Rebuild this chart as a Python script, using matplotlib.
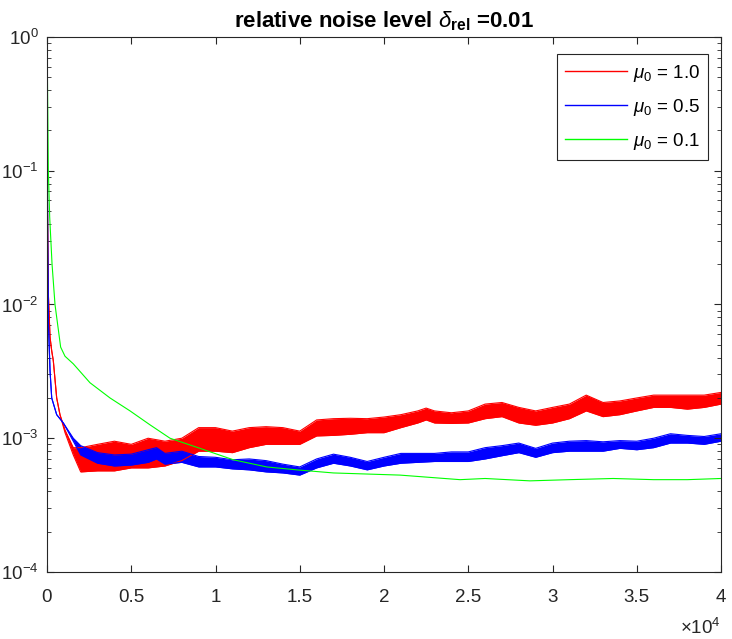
import numpy as np
import matplotlib
matplotlib.use("Agg")
import matplotlib.pyplot as plt
from matplotlib.lines import Line2D
from matplotlib.ticker import FixedLocator, LogLocator, NullFormatter

plt.rcParams['font.family'] = ['Liberation Sans', 'DejaVu Sans']
plt.rcParams['mathtext.fontset'] = 'custom'
plt.rcParams['mathtext.rm'] = 'Liberation Sans'
plt.rcParams['mathtext.it'] = 'Liberation Sans:italic'
plt.rcParams['mathtext.bf'] = 'Liberation Sans:bold'

# mu0 = 1.0 (red): lower / upper edge of the noisy curve
red_x = [0, 10, 30, 80, 180, 280, 375, 575, 770, 1070, 1560,
         2000, 3000, 4000, 5000, 6000, 7000, 8000, 9000, 10000, 11000,
         12000, 13000, 14000, 15000, 16000, 17000, 18000, 19000, 20000, 21000,
         22000, 22500, 23000, 24000, 25000, 26000, 27000, 28000, 29000, 30000, 31000,
         32000, 33000, 34000, 35000, 36000, 37000, 38000, 39000, 40000]
red_lo = [1.0, 0.3, 0.05, 0.012, 0.0057, 0.0045, 0.0038, 0.002, 0.0015, 0.0011, 0.00075,
          0.00056, 0.00057, 0.00057, 0.0006, 0.0006, 0.00062, 0.00068, 0.0008, 0.0008, 0.00078,
          0.00085, 0.0009, 0.0009, 0.0009, 0.00104, 0.00105, 0.00107, 0.0011, 0.0011, 0.0012,
          0.0013, 0.00137, 0.0013, 0.00129, 0.0013, 0.0014, 0.00145, 0.0013, 0.00125, 0.0013, 0.0014,
          0.0016, 0.00145, 0.0015, 0.0016, 0.0017, 0.0017, 0.00165, 0.0017, 0.0018]
red_hi = [1.0, 0.3, 0.05, 0.012, 0.0057, 0.0045, 0.0038, 0.002, 0.0015, 0.00115, 0.00085,
          0.00085, 0.0009, 0.00095, 0.0009, 0.001, 0.00095, 0.001, 0.0012, 0.0012, 0.00113,
          0.0012, 0.00122, 0.0012, 0.00113, 0.00137, 0.0014, 0.00141, 0.0014, 0.00144, 0.0015,
          0.0016, 0.00168, 0.0016, 0.00155, 0.0016, 0.0018, 0.00185, 0.0017, 0.0016, 0.0017, 0.0018,
          0.0021, 0.00185, 0.0019, 0.002, 0.0021, 0.0021, 0.0021, 0.0021, 0.0022]

# mu0 = 0.5 (blue)
blue_x = [0, 15, 40, 80, 180, 280, 575, 970, 1560,
          2000, 3000, 4000, 5000, 6000, 6500, 7000, 8000, 9000, 10000, 11000,
          12000, 13000, 14000, 15000, 16000, 17000, 18000, 19000, 20000, 21000,
          22000, 23000, 24000, 25000, 26000, 27000, 28000, 29000, 30000, 31000,
          32000, 33000, 34000, 35000, 36000, 37000, 38000, 39000, 40000]
blue_lo = [1.0, 0.3, 0.03, 0.0076, 0.0032, 0.002, 0.0015, 0.0013, 0.00095,
           0.00075, 0.00065, 0.00062, 0.00063, 0.00066, 0.0007, 0.00064, 0.00066, 0.00061, 0.00061, 0.00059,
           0.00058, 0.00056, 0.00055, 0.00053, 0.0006, 0.00065, 0.00062, 0.00058, 0.00062, 0.00065,
           0.00066, 0.00067, 0.00067, 0.00067, 0.0007, 0.00074, 0.00078, 0.00072, 0.00078, 0.0008,
           0.0008, 0.0008, 0.00084, 0.00082, 0.00085, 0.00092, 0.00092, 0.0009, 0.00095]
blue_hi = [1.0, 0.3, 0.03, 0.0076, 0.0032, 0.002, 0.0015, 0.0013, 0.001,
           0.00088, 0.00078, 0.00075, 0.00076, 0.00082, 0.00085, 0.00077, 0.0008, 0.00073, 0.00072, 0.00069,
           0.0007, 0.00068, 0.00064, 0.00061, 0.0007, 0.00076, 0.00072, 0.00067, 0.00072, 0.00077,
           0.00077, 0.00077, 0.00079, 0.00079, 0.00085, 0.00088, 0.00092, 0.00084, 0.00092, 0.00095,
           0.00096, 0.00094, 0.00096, 0.00095, 0.001, 0.00108, 0.00105, 0.00103, 0.00108]

# mu0 = 0.1 (green)
green_x = [0, 20, 50, 80, 160, 300, 475, 810, 1070, 1560, 2550, 3740, 4930, 6110,
           7300, 9080, 11060, 13040, 14820, 17000, 20950, 24510, 26000,
           28660, 31000, 33600, 36000, 38000, 40000]
green_y = [1.0, 0.6, 0.25, 0.1, 0.045, 0.02, 0.01, 0.0048, 0.0041, 0.0036, 0.0026, 0.002,
           0.0016, 0.00126, 0.001, 0.00084, 0.00069, 0.00061, 0.00058, 0.00055, 0.00053,
           0.00049, 0.0005, 0.00048, 0.00049, 0.0005, 0.00049, 0.00049, 0.0005]

labels = [r'$\mu_0$ = 1.0', r'$\mu_0$ = 0.5', r'$\mu_0$ = 0.1']
xtick_vals = [0, 5000, 10000, 15000, 20000, 25000, 30000, 35000, 40000]
xtick_labels = ['0', '0.5', '1', '1.5', '2', '2.5', '3', '3.5', '4']

fig = plt.figure(figsize=(7.32, 6.39), dpi=100)
ax = fig.add_axes([0.0642, 0.1049, 0.9208, 0.8372])

for xs, lo, hi, c in [(red_x, red_lo, red_hi, (1, 0, 0)), (blue_x, blue_lo, blue_hi, (0, 0, 1))]:
    ax.fill_between(xs, lo, hi, color=c, linewidth=0)
    ax.plot(xs, lo, color=c, lw=0.8)
    ax.plot(xs, hi, color=c, lw=0.8)
ax.plot(green_x, green_y, color=(0, 1, 0), lw=0.8)

ax.set_yscale('log')
ax.set_xlim(0, 40000)
ax.set_ylim(1e-4, 1)
ax.xaxis.set_major_locator(FixedLocator(xtick_vals))
ax.set_xticklabels(xtick_labels)
ax.yaxis.set_minor_locator(LogLocator(base=10, subs=np.arange(2, 10)))
ax.yaxis.set_minor_formatter(NullFormatter())

axc = (0.15, 0.15, 0.15)
for s in ax.spines.values():
    s.set_color(axc)
    s.set_linewidth(0.8)
ax.tick_params(which='both', direction='in', top=True, right=True, color=axc,
               labelsize=13.5, labelcolor=axc)
ax.tick_params(which='major', length=5, width=0.8)
ax.tick_params(axis='x', which='major', pad=12)
ax.tick_params(axis='y', which='major', pad=6)
ax.tick_params(which='minor', length=3, width=0.6)

ax.text(1.0, -0.085, r'$\times10^{4}$', transform=ax.transAxes, ha='right', va='top',
        fontsize=13.5, color=axc)
ax.set_title(r'relative noise level $\delta_{\mathbf{rel}}$ =0.01', fontweight='bold',
             fontsize=16, pad=7)

handles = [Line2D([], [], color=c, lw=1) for c in [(1, 0, 0), (0, 0, 1), (0, 1, 0)]]
leg = ax.legend(handles, labels, loc='upper right', bbox_to_anchor=(0.981, 0.968),
                borderaxespad=0, fancybox=False, framealpha=1, edgecolor=axc,
                fontsize=13.5, handlelength=3.3, handletextpad=0.3, labelspacing=0.7,
                borderpad=0.45)
leg.get_frame().set_linewidth(0.8)

fig.savefig('out.png', dpi=100)
